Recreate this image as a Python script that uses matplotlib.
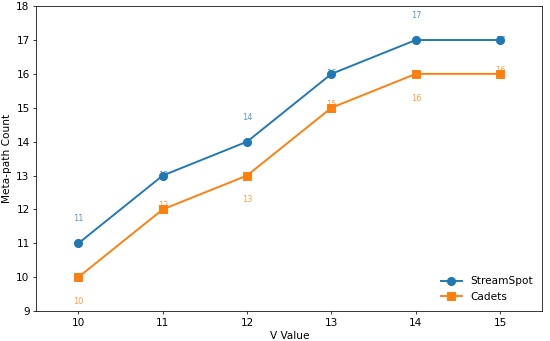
import matplotlib

matplotlib.use("Agg")
import matplotlib.pyplot as plt

# ---- data ----------------------------------------------------------------
v_values = [10, 11, 12, 13, 14, 15]
streamspot = [11, 13, 14, 16, 17, 17]
cadets = [10, 12, 13, 15, 16, 16]

BLUE = "#1f77b4"
ORANGE = "#ff7f0e"

plt.rcParams["font.size"] = 11

fig, ax = plt.subplots(figsize=(8, 4.96), dpi=68.75)
fig.subplots_adjust(left=0.066, right=0.986, bottom=0.088, top=0.982)

ax.plot(v_values, streamspot, marker="o", color=BLUE, lw=2, ms=8.5,
        label="StreamSpot", zorder=3)
ax.plot(v_values, cadets, marker="s", color=ORANGE, lw=2, ms=8.5,
        label="Cadets", zorder=3)

# value labels: alternate between offset and on-marker positions
for i, (x, y) in enumerate(zip(v_values, streamspot)):
    off = 0.72 if i % 2 == 0 else 0.0
    ax.text(x, y + off, f"{y}", ha="center", va="center", fontsize=8.5,
            color=BLUE, alpha=0.75, zorder=2)
for i, (x, y) in enumerate(zip(v_values, cadets)):
    off = -0.72 if i % 2 == 0 else 0.1
    ax.text(x, y + off, f"{y}", ha="center", va="center", fontsize=8.5,
            color=ORANGE, alpha=0.75, zorder=2)

ax.set_xlim(9.5, 15.5)
ax.set_ylim(9, 18)
ax.set_xticks(v_values)
ax.set_yticks(range(9, 19))
ax.set_xlabel("V Value")
ax.set_ylabel("Meta-path Count")
ax.legend(loc="lower right", frameon=False)

fig.savefig("out.png", dpi=68.75)
